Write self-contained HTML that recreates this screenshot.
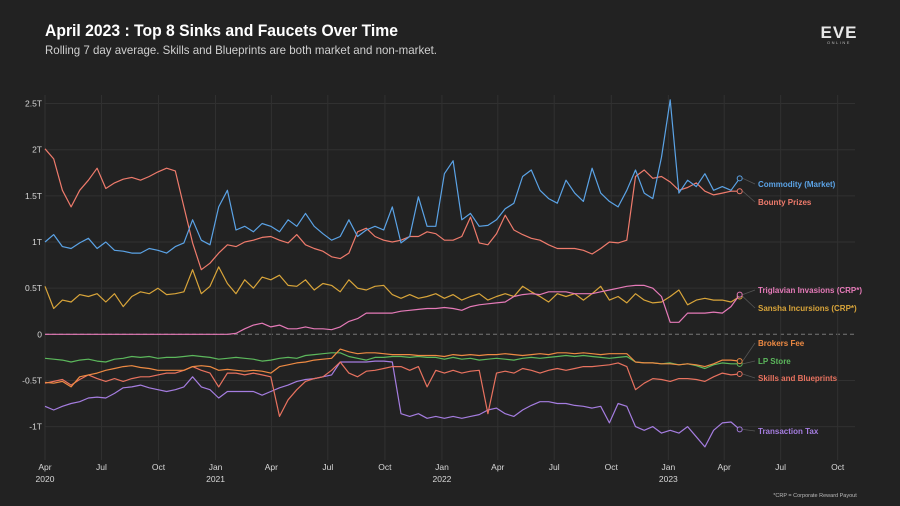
<!DOCTYPE html>
<html><head><meta charset="utf-8">
<style>
html,body{margin:0;padding:0;background:#222222;}
body{width:900px;height:506px;overflow:hidden;font-family:"Liberation Sans",sans-serif;}
</style></head>
<body>
<svg id="chart" width="900" height="506" xmlns="http://www.w3.org/2000/svg" style="display:block">
<rect width="900" height="506" fill="#222222"/>
<text x="45" y="36" fill="#ffffff" font-size="17" font-weight="bold" textLength="353" lengthAdjust="spacingAndGlyphs">April 2023 : Top 8 Sinks and Faucets Over Time</text>
<text x="45" y="54" fill="#d0d0d0" font-size="12" textLength="392" lengthAdjust="spacingAndGlyphs">Rolling 7 day average. Skills and Blueprints are both market and non-market.</text>
<g>
<text x="839" y="38" fill="#e8e8e8" font-size="17" font-weight="bold" text-anchor="middle" letter-spacing="1">EVE</text>
<text x="839" y="44" fill="#bbbbbb" font-size="4" text-anchor="middle" letter-spacing="1.5">ONLINE</text>
</g>
<g id="grid"></g>
<g id="axes"></g>
<g id="series"></g>
<g id="labels"></g>
<text x="815" y="497" fill="#bbbbbb" font-size="5.5" text-anchor="middle">*CRP = Corporate Reward Payout</text>
</svg>
<script>
// data: values in trillions ISK, one point every 14 days starting 2020-04-01
const startDate = "2020-04-01";
const stepDays = 14;
const commodity = [1.0,1.08,0.95,0.93,0.99,1.04,0.93,1.0,0.91,0.9,0.88,0.88,0.93,0.91,0.88,0.95,0.99,1.24,1.02,0.97,1.38,1.56,1.13,1.17,1.11,1.2,1.17,1.11,1.24,1.17,1.31,1.17,1.09,1.02,1.06,1.24,1.06,1.13,1.17,1.13,1.38,0.99,1.06,1.49,1.17,1.17,1.74,1.88,1.24,1.31,1.17,1.18,1.24,1.36,1.42,1.71,1.78,1.56,1.47,1.42,1.67,1.53,1.44,1.8,1.53,1.44,1.38,1.56,1.78,1.53,1.47,1.92,2.54,1.53,1.67,1.6,1.74,1.56,1.6,1.56,1.69];
const bounty = [2.01,1.9,1.56,1.38,1.56,1.67,1.8,1.58,1.64,1.68,1.7,1.67,1.71,1.76,1.8,1.77,1.38,0.99,0.7,0.77,0.88,0.97,0.95,1.0,1.02,1.05,1.06,1.02,0.99,1.08,0.97,0.93,0.9,0.84,0.82,0.88,1.11,1.15,1.06,1.02,1.0,1.02,1.06,1.06,1.11,1.09,1.02,1.02,1.06,1.27,0.99,0.97,1.09,1.29,1.13,1.08,1.04,1.02,0.97,0.93,0.93,0.93,0.91,0.87,0.93,1.0,0.99,1.02,1.71,1.78,1.69,1.71,1.65,1.56,1.59,1.64,1.55,1.51,1.53,1.55,1.55];
const triglavian = [0,0,0,0,0,0,0,0,0,0,0,0,0,0,0,0,0,0,0,0,0,0,0.01,0.06,0.1,0.12,0.08,0.1,0.06,0.06,0.08,0.06,0.06,0.05,0.08,0.14,0.17,0.23,0.23,0.23,0.23,0.25,0.26,0.27,0.28,0.28,0.29,0.28,0.26,0.3,0.32,0.33,0.34,0.35,0.41,0.43,0.44,0.43,0.46,0.46,0.46,0.44,0.44,0.44,0.46,0.48,0.5,0.52,0.53,0.53,0.5,0.41,0.13,0.13,0.23,0.23,0.23,0.24,0.23,0.3,0.43];
const sansha = [0.52,0.28,0.37,0.35,0.43,0.41,0.44,0.35,0.44,0.3,0.41,0.46,0.44,0.5,0.43,0.44,0.46,0.7,0.44,0.52,0.73,0.55,0.44,0.59,0.5,0.62,0.59,0.64,0.53,0.52,0.59,0.48,0.55,0.53,0.46,0.59,0.5,0.48,0.52,0.53,0.43,0.39,0.43,0.39,0.41,0.44,0.39,0.43,0.37,0.41,0.44,0.37,0.41,0.44,0.41,0.52,0.46,0.41,0.35,0.44,0.41,0.44,0.37,0.44,0.52,0.37,0.41,0.34,0.44,0.37,0.34,0.35,0.41,0.48,0.32,0.37,0.39,0.37,0.37,0.35,0.41];
const brokers = [-0.52,-0.53,-0.51,-0.57,-0.46,-0.44,-0.42,-0.39,-0.37,-0.35,-0.34,-0.36,-0.37,-0.39,-0.39,-0.39,-0.39,-0.35,-0.34,-0.35,-0.39,-0.38,-0.39,-0.4,-0.39,-0.4,-0.42,-0.35,-0.33,-0.31,-0.3,-0.28,-0.27,-0.26,-0.16,-0.19,-0.21,-0.2,-0.2,-0.21,-0.22,-0.22,-0.22,-0.23,-0.23,-0.23,-0.24,-0.22,-0.23,-0.22,-0.23,-0.22,-0.22,-0.21,-0.22,-0.23,-0.22,-0.21,-0.22,-0.2,-0.2,-0.21,-0.2,-0.21,-0.22,-0.21,-0.21,-0.21,-0.3,-0.31,-0.31,-0.32,-0.32,-0.33,-0.32,-0.33,-0.35,-0.32,-0.28,-0.28,-0.29];
const lpStore = [-0.26,-0.27,-0.28,-0.3,-0.28,-0.27,-0.29,-0.3,-0.27,-0.26,-0.24,-0.25,-0.24,-0.26,-0.25,-0.25,-0.24,-0.23,-0.24,-0.25,-0.27,-0.26,-0.25,-0.26,-0.27,-0.29,-0.28,-0.26,-0.25,-0.26,-0.23,-0.22,-0.21,-0.2,-0.2,-0.24,-0.26,-0.28,-0.25,-0.25,-0.24,-0.24,-0.25,-0.24,-0.25,-0.25,-0.27,-0.25,-0.27,-0.26,-0.28,-0.27,-0.26,-0.27,-0.28,-0.26,-0.25,-0.26,-0.25,-0.24,-0.23,-0.24,-0.23,-0.24,-0.25,-0.26,-0.25,-0.24,-0.3,-0.31,-0.31,-0.32,-0.31,-0.33,-0.32,-0.34,-0.37,-0.33,-0.31,-0.32,-0.32];
const skills = [-0.53,-0.51,-0.49,-0.55,-0.49,-0.44,-0.48,-0.51,-0.48,-0.51,-0.48,-0.46,-0.46,-0.44,-0.42,-0.42,-0.39,-0.35,-0.39,-0.42,-0.57,-0.42,-0.42,-0.44,-0.42,-0.44,-0.46,-0.89,-0.71,-0.6,-0.51,-0.48,-0.46,-0.39,-0.3,-0.42,-0.46,-0.4,-0.39,-0.37,-0.35,-0.35,-0.39,-0.35,-0.57,-0.39,-0.42,-0.39,-0.42,-0.4,-0.39,-0.86,-0.42,-0.4,-0.42,-0.37,-0.39,-0.42,-0.39,-0.37,-0.39,-0.37,-0.35,-0.35,-0.34,-0.33,-0.31,-0.35,-0.6,-0.53,-0.48,-0.49,-0.51,-0.48,-0.48,-0.49,-0.51,-0.46,-0.42,-0.44,-0.43];
const transactionTax = [-0.78,-0.82,-0.78,-0.75,-0.73,-0.69,-0.68,-0.69,-0.64,-0.58,-0.57,-0.55,-0.58,-0.6,-0.62,-0.6,-0.57,-0.46,-0.57,-0.6,-0.69,-0.62,-0.62,-0.62,-0.62,-0.66,-0.62,-0.58,-0.55,-0.51,-0.49,-0.48,-0.46,-0.44,-0.3,-0.3,-0.3,-0.3,-0.29,-0.29,-0.3,-0.86,-0.89,-0.86,-0.91,-0.89,-0.91,-0.89,-0.91,-0.89,-0.87,-0.82,-0.8,-0.86,-0.89,-0.82,-0.77,-0.73,-0.73,-0.75,-0.75,-0.77,-0.78,-0.8,-0.78,-0.96,-0.75,-0.78,-1.0,-1.04,-1.0,-1.07,-1.04,-1.07,-1.0,-1.11,-1.22,-1.04,-0.96,-0.95,-1.03];
const seriesNames = ["Commodity (Market)","Bounty Prizes","Triglavian Invasions (CRP*)","Sansha Incursions (CRP*)","Brokers Fee","LP Store","Skills and Blueprints","Transaction Tax"];
const yTickValues = [2.5,2,1.5,1,0.5,0,-0.5,-1];
const yTickLabels = ["2.5T","2T","1.5T","1T","0.5T","0","-0.5T","-1T"];
const xTickDates = ["2020-04-01","2020-07-01","2020-10-01","2021-01-01","2021-04-01","2021-07-01","2021-10-01","2022-01-01","2022-04-01","2022-07-01","2022-10-01","2023-01-01","2023-04-01","2023-07-01","2023-10-01"];
const xTickLabels = ["Apr","Jul","Oct","Jan","Apr","Jul","Oct","Jan","Apr","Jul","Oct","Jan","Apr","Jul","Oct"];
const xTickYears = ["2020","","","2021","","","","2022","","","","2023","","",""];

const NS="http://www.w3.org/2000/svg";
const colors=["#5ba3e6","#ef7b6c","#e57ab8","#d9a53a","#ee8a43","#5cb85c","#e8725f","#a57de0"];
const labelY=[184,202,290,308,343,361,378,431];
const allSeries=[commodity,bounty,triglavian,sansha,brokers,lpStore,skills,transactionTax];
const names=["commodity","bounty","triglavian","sansha","brokers-fee","lp-store","skills-blueprints","transaction-tax"];
const t0=Date.parse("2020-04-01T00:00:00Z"), day=86400000;
const X0=45, PXD=793.3/1279;
function xDate(s){return X0+(Date.parse(s+"T00:00:00Z")-t0)/day*PXD;}
function xIdx(i){return X0+((Date.parse(startDate+"T00:00:00Z")-t0)/day+i*stepDays)*PXD;}
function y(v){return 334.3-v*92.3;}
function mk(tag,attrs,parent){const e=document.createElementNS(NS,tag);for(const k in attrs)e.setAttribute(k,attrs[k]);parent.appendChild(e);return e;}
const grid=document.getElementById('grid'),axes=document.getElementById('axes'),ser=document.getElementById('series'),lab=document.getElementById('labels');
yTickValues.forEach((v,i)=>{
  if(v!==0){const l=mk('line',{x1:45,x2:855,y1:y(v),y2:y(v),stroke:'#313131','stroke-width':1},grid);
  
  }
  else{const l=mk('line',{x1:45,x2:855,y1:y(v),y2:y(v),stroke:'#777','stroke-width':1,'stroke-dasharray':'4,3'},grid);
  
  }
  const t=mk('text',{x:42,y:y(v)+3,fill:'#d8d8d8','font-size':8.5,'text-anchor':'end'},axes);
  t.textContent=yTickLabels[i];
  
  
});
xTickDates.forEach((d,i)=>{
  const x=xDate(d);
  const l=mk('line',{x1:x,x2:x,y1:95,y2:460,stroke:'#313131','stroke-width':1},grid);
  
  
  const t=mk('text',{x:x,y:470,fill:'#d8d8d8','font-size':8.5,'text-anchor':'middle'},axes);
  t.textContent=xTickLabels[i];
  
  
  if(xTickYears[i]){const ty=mk('text',{x:x,y:482,fill:'#d8d8d8','font-size':8.5,'text-anchor':'middle'},axes);
  ty.textContent=xTickYears[i];
  
  }
});
[7,6,5,4,3,2,1,0].forEach(s=>{
  const d=allSeries[s];
  const pts=d.map((v,i)=>xIdx(i).toFixed(1)+','+y(v).toFixed(1)).join(' ');
  const p=mk('polyline',{points:pts,fill:'none',stroke:colors[s],'stroke-width':1.2,'stroke-linejoin':'round'},ser);
  
  
  const lx=xIdx(d.length-1), ly=y(d[d.length-1]);
  const c=mk('circle',{cx:lx,cy:ly,r:2.5,fill:'#222',stroke:colors[s],'stroke-width':1},ser);
  
  
  const cl=mk('line',{x1:lx+3,y1:ly,x2:755,y2:labelY[s],stroke:'#555','stroke-width':0.8},lab);
  
  
  const t=mk('text',{x:758,y:labelY[s]+3,fill:colors[s],'font-size':8,'font-weight':'bold'},lab);
  t.textContent=seriesNames[s];
  
  
});
</script>
</body></html>
